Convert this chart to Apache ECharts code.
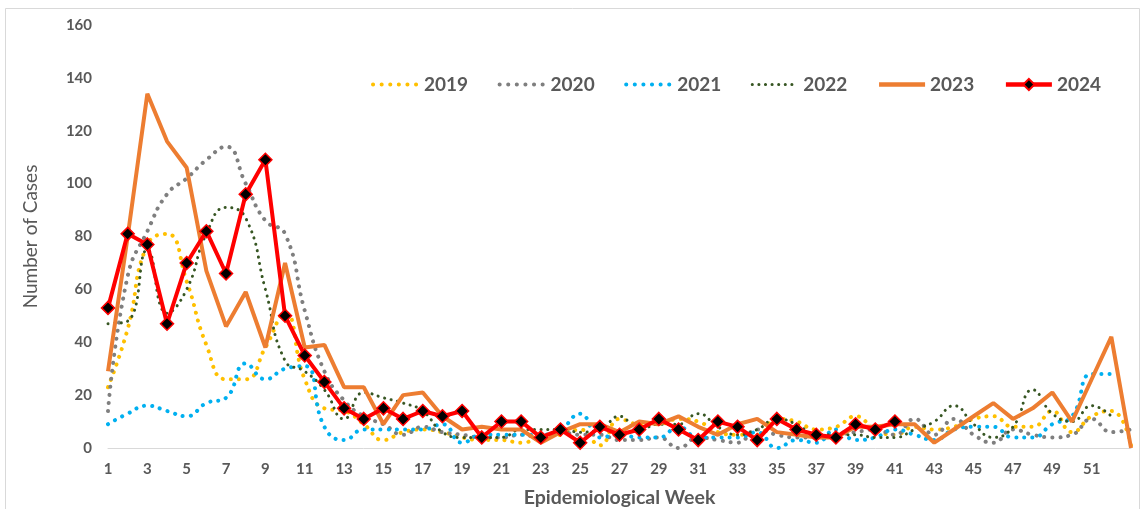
<!DOCTYPE html>
<html>
<head>
<meta charset="utf-8">
<script src="https://cdn.jsdelivr.net/npm/echarts@6/dist/echarts.min.js"></script>
<style>
html,body{margin:0;padding:0;background:#fff;}
#chart{width:1142px;height:509px;}
</style>
</head>
<body>
<div id="chart"></div>
<script>
var weeks = ['1','2','3','4','5','6','7','8','9','10','11','12','13','14','15','16','17','18','19','20','21','22','23','24','25','26','27','28','29','30','31','32','33','34','35','36','37','38','39','40','41','42','43','44','45','46','47','48','49','50','51','52','53'];

var y2019 = [23,45,77,81,63,39,26,26,38,51,26,15,14,9,3,6,7,6,4,3,3,2,4,5,7,1,11,9,9,11,10,6,5,5,11,10,7,8,12,7,5,8,7,8,11,12,8,8,14,6,12,14,1];
var y2020 = [14,65,82,96,102,109,114,100,86,81,52,29,18,12,9,5,8,6,5,4,4,5,4,6,5,5,3,3,4,0,4,3,2,7,5,4,4,5,6,7,5,11,5,11,5,2,7,5,4,5,11,6,7];
var y2021 = [9,13,16,14,12,17,19,32,26,30,31,8,3,7,7,7,7,9,2,5,5,5,5,7,13,4,5,4,4,8,4,4,4,6,0,3,2,7,3,4,7,5,3,7,8,8,4,4,9,12,28,28,null];
var y2022 = [47,48,75,51,60,81,91,87,60,33,29,22,11,21,19,17,14,6,4,4,4,7,7,7,6,7,12,7,9,9,13,8,5,7,11,9,5,5,5,4,4,7,10,16,9,4,8,22,13,10,16,12,null];
var y2023 = [29,80,134,116,106,67,46,59,38,70,38,39,23,23,9,20,21,12,7,8,7,7,2,6,9,9,6,10,9,12,8,5,9,11,6,5,4,4,8,8,9,9,2,7,12,17,11,15,21,10,26,42,0];
var y2024 = [53,81,77,47,70,82,66,96,109,50,35,25,15,11,15,11,14,12,14,4,10,10,4,7,2,8,5,7,11,7,3,10,8,3,11,7,5,4,9,7,10];

var seriesNames = ['2019','2020','2021','2022','2023','2024'];
var colors = ['#FFC000','#7F7F7F','#00B0F0','#375623','#ED7D31','#FF0000'];
var FONT = 'Lato, "Open Sans", sans-serif';
var TXT = '#595959';

function dotted(name, data, color, w, gap) {
  return {
    name: name, type: 'line', data: data, smooth: 0.5, symbol: 'none',
    connectNulls: false,
    lineStyle: { color: color, width: w, type: [0.1, gap], cap: 'round' },
    itemStyle: { color: color }
  };
}
function legendDot(name, color, w, gap) {
  return { name: name, itemStyle: { opacity: 0 },
           lineStyle: { color: color, width: w, type: [0.1, gap], cap: 'round' } };
}

var chart = echarts.init(document.getElementById('chart'), null, {renderer: 'canvas'});
chart.setOption({
  animation: false,
  backgroundColor: '#fff',
  textStyle: { fontFamily: FONT },
  graphic: [{
    type: 'rect', silent: true, z: -1,
    shape: { x: 5.5, y: 8.5, width: 1134, height: 520 },
    style: { fill: 'none', stroke: '#D9D9D9', lineWidth: 1 }
  }],
  legend: {
    data: [
      legendDot('2019', colors[0], 4, 8.5),
      legendDot('2020', colors[1], 4, 8.5),
      legendDot('2021', colors[2], 4, 8.5),
      legendDot('2022', colors[3], 3, 6.5),
      { name: '2023', itemStyle: { opacity: 0 }, lineStyle: { color: colors[4], width: 4.5 } },
      { name: '2024', lineStyle: { color: colors[5], width: 4.5 } }
    ],
    left: 366, top: 70,
    itemWidth: 46, itemHeight: 14, itemGap: 29.5,
    textStyle: { fontFamily: FONT, fontSize: 19, fontWeight: 'bold', color: TXT }
  },
  grid: { left: 108, right: 11, top: 25, bottom: 61, containLabel: false, outerBoundsMode: 'none' },
  xAxis: {
    type: 'category', data: weeks, boundaryGap: false,
    name: 'Epidemiological Week', nameLocation: 'middle', nameGap: 40,
    nameTextStyle: { fontFamily: FONT, fontSize: 19.5, color: TXT, fontWeight: 'bold' },
    axisLine: { lineStyle: { color: '#D9D9D9', width: 1 } },
    axisTick: { show: false },
    axisLabel: {
      interval: function (i, v) { return i % 2 === 0 && v !== '53'; },
      margin: 14, fontFamily: FONT, fontSize: 15, fontWeight: 'bold', color: TXT
    },
    splitLine: { show: false }
  },
  yAxis: {
    type: 'value', min: 0, max: 160, interval: 20,
    name: 'Number of Cases', nameLocation: 'middle', nameGap: 68, nameRotate: 90,
    nameTextStyle: { fontFamily: FONT, fontSize: 19, color: TXT },
    axisLine: { show: false }, axisTick: { show: false },
    axisLabel: { margin: 16, fontFamily: FONT, fontSize: 15, fontWeight: 'bold', color: TXT },
    splitLine: { show: false }
  },
  series: [
    dotted('2019', y2019, colors[0], 4, 8),
    dotted('2020', y2020, colors[1], 4, 8),
    dotted('2021', y2021, colors[2], 4, 8),
    dotted('2022', y2022, colors[3], 3, 6.5),
    {
      name: '2023', type: 'line', data: y2023, symbol: 'none', smooth: false,
      lineStyle: { color: colors[4], width: 4 }, itemStyle: { color: colors[4] }
    },
    {
      name: '2024', type: 'line', data: y2024, smooth: false,
      symbol: 'diamond', symbolSize: 13, showSymbol: true, showAllSymbol: true,
      lineStyle: { color: colors[5], width: 4 },
      itemStyle: { color: '#000000', borderColor: '#FF0000', borderWidth: 1.5 }
    }
  ]
});
</script>
</body>
</html>
